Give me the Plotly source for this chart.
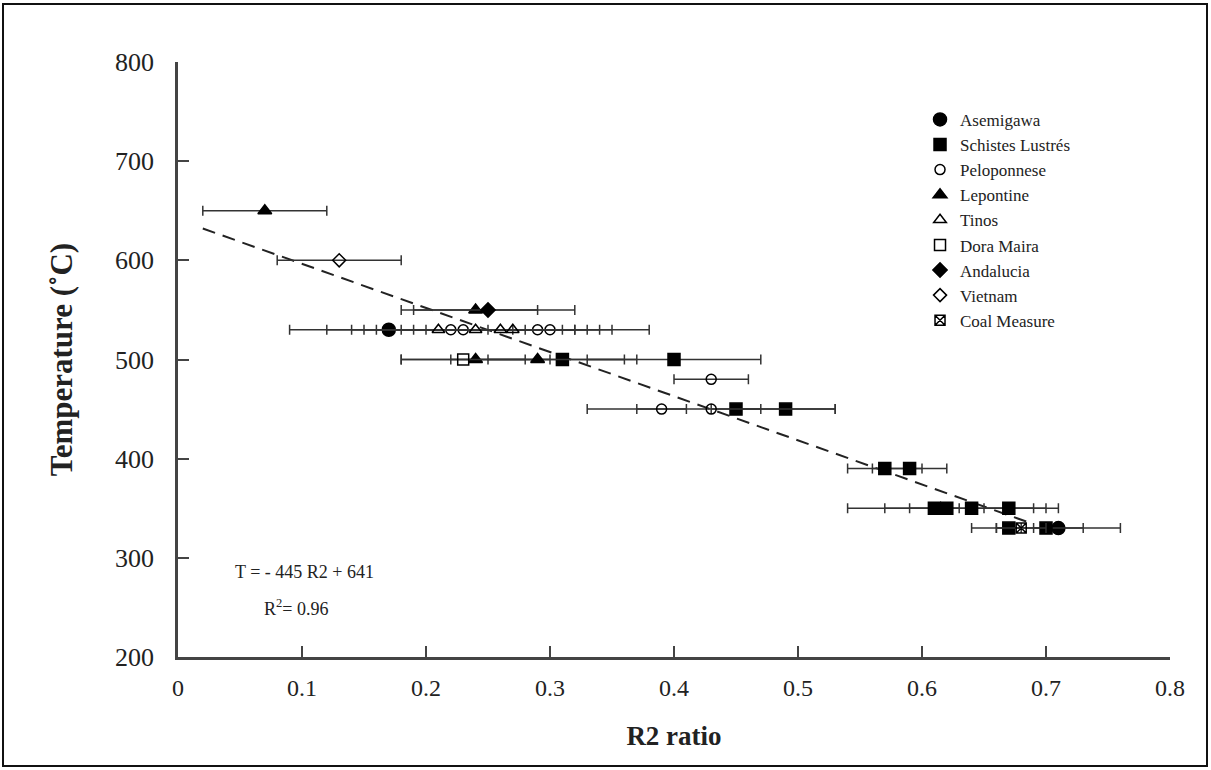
import plotly.graph_objects as go

# ---- data ----
asemigawa_x = [0.17, 0.71]
asemigawa_y = [530, 330]
asemigawa_err = [0.08, 0.02]

schistes_x = [0.31, 0.40, 0.45, 0.49, 0.57, 0.59, 0.61, 0.62, 0.64, 0.67, 0.67, 0.70]
schistes_y = [500, 500, 450, 450, 390, 390, 350, 350, 350, 350, 330, 330]
schistes_err = [0.06, 0.07, 0.02, 0.04, 0.03, 0.03, 0.02, 0.08, 0.07, 0.02, 0.01, 0.06]

pelop_x = [0.22, 0.23, 0.29, 0.30, 0.43, 0.39, 0.43]
pelop_y = [530, 530, 530, 530, 480, 450, 450]
pelop_err = [0.10, 0.08, 0.09, 0.03, 0.03, 0.02, 0.10]

lepontine_x = [0.07, 0.24, 0.24, 0.29]
lepontine_y = [650, 550, 500, 500]
lepontine_err = [0.05, 0.05, 0.06, 0.07]

tinos_x = [0.21, 0.24, 0.26, 0.27]
tinos_y = [530, 530, 530, 530]
tinos_err = [0.07, 0.08, 0.08, 0.08]

doramaira_x = [0.23]
doramaira_y = [500]
doramaira_err = [0.05]

andalucia_x = [0.25]
andalucia_y = [550]
andalucia_err = [0.07]

vietnam_x = [0.13]
vietnam_y = [600]
vietnam_err = [0.05]

coal_x = [0.68]
coal_y = [330]
coal_err = [0.02]

fit_slope = -445
fit_intercept = 641
fit_x = [0.02, 0.685]

x_ticks = [0, 0.1, 0.2, 0.3, 0.4, 0.5, 0.6, 0.7, 0.8]
x_ticklabels = ["0", "0.1", "0.2", "0.3", "0.4", "0.5", "0.6", "0.7", "0.8"]
y_ticks = [200, 300, 400, 500, 600, 700, 800]

FONT = "Liberation Serif"
ERRC = "#333333"
TXT = "#222222"

series = [
    ("Asemigawa", asemigawa_x, asemigawa_y, asemigawa_err, "circle", 13),
    ("Schistes Lustrés", schistes_x, schistes_y, schistes_err, "square", 12),
    ("Peloponnese", pelop_x, pelop_y, pelop_err, "circle-open", 10),
    ("Lepontine", lepontine_x, lepontine_y, lepontine_err, "triangle-up", 12),
    ("Tinos", tinos_x, tinos_y, tinos_err, "triangle-up-open", 11),
    ("Dora Maira", doramaira_x, doramaira_y, doramaira_err, "square-open", 11),
    ("Andalucia", andalucia_x, andalucia_y, andalucia_err, "diamond", 11),
    ("Vietnam", vietnam_x, vietnam_y, vietnam_err, "diamond-open", 10),
    ("Coal Measure", coal_x, coal_y, coal_err, "square-x-open", 10),
]

fig = go.Figure()

fig.add_trace(go.Scatter(
    x=fit_x, y=[fit_slope * v + fit_intercept for v in fit_x],
    mode="lines", line=dict(color="#222222", width=2, dash="13px,8px"),
    showlegend=False, hoverinfo="skip"))

for name, xs, ys, errs, sym, size in series:
    fig.add_trace(go.Scatter(
        x=xs, y=ys, mode="markers", name=name,
        marker=dict(symbol=sym, size=size, color="black",
                    line=dict(color="black", width=1.5)),
        error_x=dict(type="data", array=errs, symmetric=True,
                     color=ERRC, thickness=1.5, width=5),
    ))

fig.update_layout(
    width=1211, height=770,
    margin=dict(l=178, r=41, t=62, b=113),
    paper_bgcolor="white", plot_bgcolor="white",
    font=dict(family=FONT, color=TXT),
    legend=dict(x=0.748, y=0.933, xanchor="left", yanchor="top",
                font=dict(family=FONT, size=17, color=TXT),
                bgcolor="rgba(0,0,0,0)", itemwidth=30, tracegroupgap=0),
    xaxis=dict(range=[0, 0.8], tickvals=x_ticks, ticktext=x_ticklabels,
               showgrid=False, zeroline=False, showline=True,
               linecolor="#444444", linewidth=2.5, ticks="inside", ticklen=11,
               tickwidth=1.5, tickcolor="#444444",
               tickfont=dict(family=FONT, size=24, color=TXT),
               ticklabelstandoff=7,
               title=dict(text="<b>R2 ratio</b>", font=dict(family=FONT, size=27, color=TXT),
                          standoff=27)),
    yaxis=dict(range=[200, 800], tickvals=y_ticks,
               showgrid=False, zeroline=False, showline=True,
               linecolor="#444444", linewidth=2.5, ticks="inside", ticklen=11,
               tickwidth=1.5, tickcolor="#444444",
               tickfont=dict(family=FONT, size=26, color=TXT),
               ticklabelstandoff=16,
               title=dict(text="<b>Temperature (˚C)</b>", font=dict(family=FONT, size=31, color=TXT),
                          standoff=34)),
    annotations=[
        dict(x=0.044, y=286, xref="x", yref="y", text="T = - 445 R2 + 641",
             showarrow=False, xanchor="left", font=dict(family=FONT, size=18, color=TXT)),
        dict(x=0.068, y=250, xref="x", yref="y", text="R<sup>2</sup>= 0.96",
             showarrow=False, xanchor="left", font=dict(family=FONT, size=18, color=TXT)),
    ],
    shapes=[dict(type="rect", xref="paper", yref="paper",
                 x0=-0.1764, x1=1.0373, y0=-0.1832, y1=1.0975,
                 line=dict(color="#111111", width=2), layer="below")],
)

fig.write_html("out.html", config={"displayModeBar": False},
               post_script="document.body.style.margin='0px';")
